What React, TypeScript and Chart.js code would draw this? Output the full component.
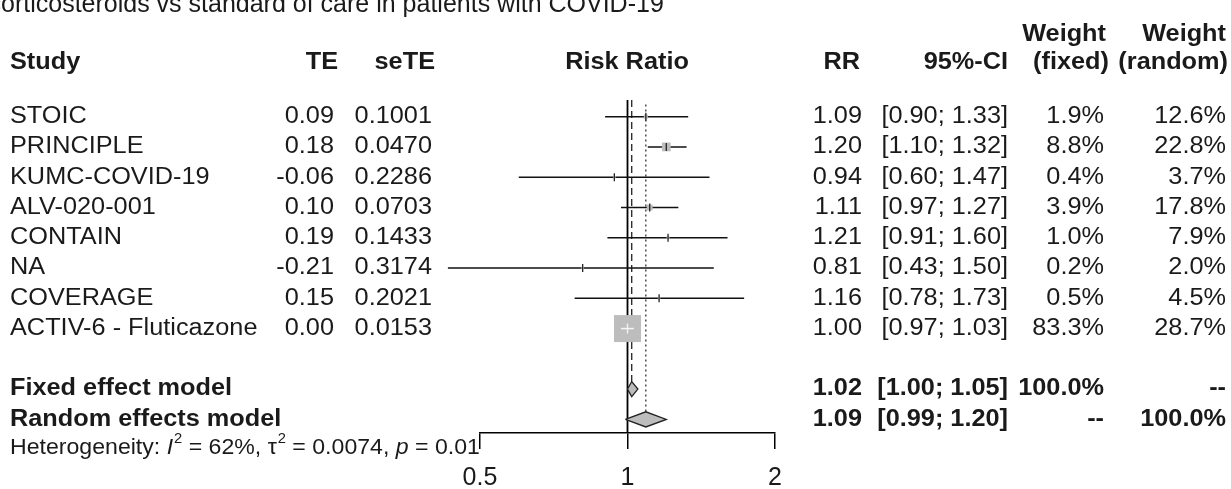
import React, { useEffect, useRef } from "react";
import { Chart, registerables } from "chart.js";

Chart.register(...registerables);

// ---------- data ----------
const titleText = "Inhaled corticosteroids vs standard of care in patients with COVID-19";
const studies = ["STOIC", "PRINCIPLE", "KUMC-COVID-19", "ALV-020-001", "CONTAIN", "NA", "COVERAGE", "ACTIV-6 - Fluticazone"];
const teValues = [0.09, 0.18, -0.06, 0.10, 0.19, -0.21, 0.15, 0.00];
const seTEValues = [0.1001, 0.0470, 0.2286, 0.0703, 0.1433, 0.3174, 0.2021, 0.0153];
const rrValues = [1.09, 1.20, 0.94, 1.11, 1.21, 0.81, 1.16, 1.00];
const ciLower = [0.90, 1.10, 0.60, 0.97, 0.91, 0.43, 0.78, 0.97];
const ciUpper = [1.33, 1.32, 1.47, 1.27, 1.60, 1.50, 1.73, 1.03];
const weightFixed = [1.9, 8.8, 0.4, 3.9, 1.0, 0.2, 0.5, 83.3];
const weightRandom = [12.6, 22.8, 3.7, 17.8, 7.9, 2.0, 4.5, 28.7];

const modelNames = ["Fixed effect model", "Random effects model"];
const modelRR = [1.02, 1.09];
const modelLower = [1.00, 0.99];
const modelUpper = [1.05, 1.20];
const modelWeightFixed = ["100.0%", "--"];
const modelWeightRandom = ["--", "100.0%"];

const heterogeneityI2 = "62%";
const heterogeneityTau2 = "0.0074";
const heterogeneityP = "0.01";

const xTicks = [0.5, 1, 2];

// ---------- layout ----------
const W = 1231;
const H = 489;
const FONT = "'Liberation Sans', Arial, Helvetica, sans-serif";
const FS = 23;
const SX = 1.1;
const modelRows = [9, 10];
const maxSquare = 27;

const squareSide = (i: number) => Math.max(2.5, maxSquare * Math.sqrt(weightFixed[i] / Math.max(...weightFixed)));

function txt(ctx: CanvasRenderingContext2D, s: string, x: number, y: number, align: "left" | "right" | "center", bold = false, size = FS, italic = false, sx = SX) {
  ctx.save();
  ctx.font = `${italic ? "italic " : ""}${bold ? "bold " : ""}${size}px ${FONT}`;
  ctx.fillStyle = "#1a1a1a";
  ctx.textBaseline = "middle";
  const w = ctx.measureText(s).width * sx;
  let left = x;
  if (align === "right") left = x - w;
  else if (align === "center") left = x - w / 2;
  ctx.translate(left, y);
  ctx.scale(sx, 1);
  ctx.textAlign = "left";
  ctx.fillText(s, 0, 0);
  ctx.restore();
  return w;
}

const textPlugin = {
  id: "forestText",
  afterDraw(chart: any) {
    const ctx: CanvasRenderingContext2D = chart.ctx;
    const ys = chart.scales.y;
    const rowY = (r: number) => ys.getPixelForValue(r);

    // title (partially cut off at top)
    ctx.save();
    ctx.font = `25px ${FONT}`;
    const pre = ctx.measureText("Inhaled c").width;
    ctx.fillStyle = "#1a1a1a";
    ctx.textBaseline = "alphabetic";
    ctx.fillText(titleText, 1 - pre, 12);
    ctx.restore();

    // headers
    const hy = rowY(-1.8);
    const wy = rowY(-2.7);
    txt(ctx, "Study", 10, hy, "left", true);
    txt(ctx, "TE", 338, hy, "right", true);
    txt(ctx, "seTE", 435, hy, "right", true);
    txt(ctx, "Risk Ratio", 627, hy, "center", true);
    txt(ctx, "RR", 860, hy, "right", true);
    txt(ctx, "95%-CI", 1008, hy, "right", true);
    txt(ctx, "Weight", 1106, wy, "right", true);
    txt(ctx, "(fixed)", 1109, hy, "right", true);
    txt(ctx, "Weight", 1226, wy, "right", true);
    txt(ctx, "(random)", 1228, hy, "right", true);

    studies.forEach((s, i) => {
      const y = rowY(i);
      txt(ctx, s, 10, y, "left");
      txt(ctx, teValues[i].toFixed(2), 334, y, "right");
      txt(ctx, seTEValues[i].toFixed(4), 432, y, "right");
      txt(ctx, rrValues[i].toFixed(2), 862, y, "right");
      txt(ctx, `[${ciLower[i].toFixed(2)}; ${ciUpper[i].toFixed(2)}]`, 1008, y, "right");
      txt(ctx, `${weightFixed[i].toFixed(1)}%`, 1104, y, "right");
      txt(ctx, `${weightRandom[i].toFixed(1)}%`, 1226, y, "right");
    });

    modelNames.forEach((s, k) => {
      const y = rowY(modelRows[k]);
      txt(ctx, s, 10, y, "left", true);
      txt(ctx, modelRR[k].toFixed(2), 862, y, "right", true);
      txt(ctx, `[${modelLower[k].toFixed(2)}; ${modelUpper[k].toFixed(2)}]`, 1008, y, "right", true);
      txt(ctx, modelWeightFixed[k], 1104, y, "right", true);
      txt(ctx, modelWeightRandom[k], 1226, y, "right", true);
    });

    // heterogeneity
    const hty = rowY(10.95);
    const fs = 22;
    const sup = 14;
    const hs = 1.05;
    let x = 10;
    x += txt(ctx, "Heterogeneity: ", x, hty, "left", false, fs, false, hs);
    x += txt(ctx, "I", x, hty, "left", false, fs, true, hs);
    x += txt(ctx, "2", x + 1, hty - 9, "left", false, sup, false, hs) + 1;
    x += txt(ctx, " = " + heterogeneityI2 + ", ", x, hty, "left", false, fs, false, hs);
    x += txt(ctx, "\u03c4", x, hty, "left", false, fs, false, hs);
    x += txt(ctx, "2", x + 1, hty - 9, "left", false, sup, false, hs) + 1;
    x += txt(ctx, " = " + heterogeneityTau2 + ", ", x, hty, "left", false, fs, false, hs);
    x += txt(ctx, "p", x, hty, "left", false, fs, true, hs);
    txt(ctx, " = " + heterogeneityP, x, hty, "left", false, fs, false, hs);
  },
};

export default function App() {
  const ref = useRef<HTMLCanvasElement | null>(null);

  useEffect(() => {
    document.body.style.margin = "0";
    const canvas = ref.current;
    if (!canvas) return;

    const datasets: any[] = [];

    // reference lines
    datasets.push({
      type: "line", data: [{ x: 1, y: -0.55 }, { x: 1, y: 10.45 }],
      borderColor: "#000", borderWidth: 1.8, pointRadius: 0, clip: false, order: 10,
    });
    datasets.push({
      type: "line", data: [{ x: modelRR[0], y: -0.55 }, { x: modelRR[0], y: modelRows[0] - 0.25 }],
      borderColor: "#222", borderWidth: 1.3, borderDash: [7, 4], pointRadius: 0, clip: false, order: 9,
    });
    datasets.push({
      type: "line", data: [{ x: modelRR[1], y: -0.4 }, { x: modelRR[1], y: modelRows[1] - 0.26 }],
      borderColor: "#222", borderWidth: 1.2, borderDash: [2, 3], pointRadius: 0, clip: false, order: 9,
    });

    const inside = (chart: any, i: number) => {
      const sx = chart.scales.x;
      if (!sx) return false;
      const p = sx.getPixelForValue(rrValues[i]);
      const h = squareSide(i) / 2;
      return sx.getPixelForValue(ciLower[i]) >= p - h && sx.getPixelForValue(ciUpper[i]) <= p + h;
    };

    // confidence intervals
    studies.forEach((_, i) => {
      datasets.push({
        type: "line", data: [{ x: ciLower[i], y: i }, { x: ciUpper[i], y: i }],
        borderColor: "#111", borderWidth: 1.5, pointRadius: 0, clip: false, order: 6,
      });
    });

    // squares
    datasets.push({
      type: "scatter",
      data: studies.map((_, i) => ({ x: rrValues[i], y: i })),
      pointStyle: "rect",
      pointRadius: studies.map((_, i) => squareSide(i) / Math.SQRT2),
      backgroundColor: "#bdbdbd", borderWidth: 0, clip: false, order: 4,
    });

    // CI inside squares drawn white
    studies.forEach((_, i) => {
      datasets.push({
        type: "line", data: [{ x: ciLower[i], y: i }, { x: ciUpper[i], y: i }],
        borderColor: (c: any) => (inside(c.chart, i) ? "#f4f4f4" : "rgba(0,0,0,0)"),
        borderWidth: 1.5, pointRadius: 0, clip: false, order: 3,
      });
    });

    // estimate marks
    datasets.push({
      type: "scatter",
      data: studies.map((_, i) => ({ x: rrValues[i], y: i })),
      pointStyle: "line", rotation: 90, pointRadius: studies.map((_, i) => (squareSide(i) > 10 ? 5 : 4)),
      borderWidth: 1.3,
      borderColor: (c: any) => (inside(c.chart, c.dataIndex) ? "#f4f4f4" : "#222"),
      clip: false, order: 2,
    });

    // diamonds
    modelNames.forEach((_, k) => {
      const r = modelRows[k];
      datasets.push({
        type: "line",
        data: [
          { x: modelLower[k], y: r }, { x: modelRR[k], y: r - 0.25 },
          { x: modelUpper[k], y: r }, { x: modelRR[k], y: r + 0.25 }, { x: modelLower[k], y: r },
        ],
        borderColor: "#222", borderWidth: 1.3, backgroundColor: "#bdbdbd",
        fill: "shape", tension: 0, pointRadius: 0, clip: false, order: 1,
      });
    });

    const chart = new Chart(canvas, {
      type: "scatter",
      data: { datasets },
      options: {
        animation: false,
        responsive: false,
        maintainAspectRatio: false,
        events: [],
        layout: { padding: { left: 480, right: W - 775, top: 100, bottom: 0 } },
        plugins: { legend: { display: false }, tooltip: { enabled: false } },
        scales: {
          x: {
            type: "logarithmic", min: 0.5, max: 2, position: "bottom",
            afterBuildTicks: (s: any) => { s.ticks = xTicks.map((v) => ({ value: v })); },
            afterFit: (s: any) => { s.height = H - 433; },
            grid: { drawOnChartArea: false, drawTicks: true, tickLength: 16, color: "#000", lineWidth: 1.5 },
            border: { display: true, color: "#000", width: 1.5 },
            ticks: {
              color: "#1a1a1a", font: { family: FONT, size: 25 }, padding: 14,
              autoSkip: false, maxRotation: 0, callback: (v: any) => String(v),
            },
          },
          y: { type: "linear", min: -0.55, max: 10.45, reverse: true, display: false },
        },
      },
      plugins: [textPlugin],
    } as any);

    return () => chart.destroy();
  }, []);

  return (
    <div style={{ width: W, height: H, background: "#fff" }}>
      <canvas ref={ref} width={W} height={H} style={{ display: "block", width: W, height: H }} />
    </div>
  );
}
